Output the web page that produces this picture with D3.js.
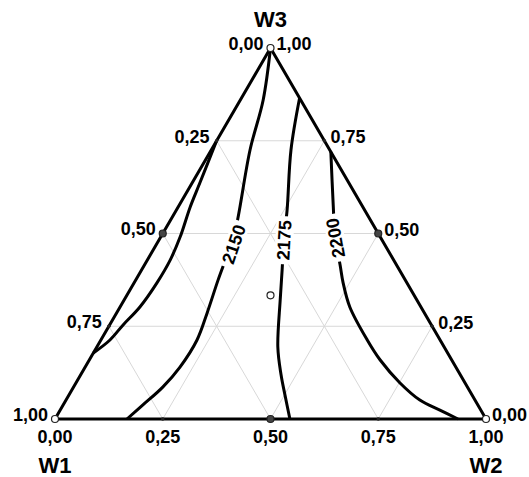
<!DOCTYPE html>
<html>
<head>
<meta charset="utf-8">
<script src="https://cdn.jsdelivr.net/npm/d3@7"></script>
<style>
  body { margin: 0; background: #fff; }
  svg { display: block; font-family: "Liberation Sans", Arial, sans-serif; font-weight: bold; }
</style>
</head>
<body>
<svg id="svg0" width="529" height="477"></svg>
<script>
// ternary points are [W1, W2, W3]
var tickValues = [0, 0.25, 0.5, 0.75, 1];
var gridValues = [0.25, 0.5, 0.75];
var axisNames = ['W1', 'W2', 'W3'];

var designPoints = [
    [1, 0, 0], [0, 1, 0], [0, 0, 1],
    [0.5, 0.5, 0], [0.5, 0, 0.5], [0, 0.5, 0.5],
    [1/3, 1/3, 1/3]
];

var contourLeft = [
    [0.250, 0.000, 0.750], [0.346, 0.018, 0.636], [0.401, 0.028, 0.571],
    [0.464, 0.045, 0.491], [0.518, 0.053, 0.429], [0.580, 0.053, 0.367],
    [0.652, 0.046, 0.302], [0.716, 0.031, 0.253], [0.766, 0.021, 0.213],
    [0.822, 0.000, 0.178]
];
var contour2150 = [
    [0.000, 0.000, 1.000], [0.087, 0.053, 0.860], [0.185, 0.090, 0.725],
    [0.314, 0.158, 0.528], [0.348, 0.170, 0.482], [0.386, 0.180, 0.434],
    [0.434, 0.191, 0.375], [0.504, 0.210, 0.286], [0.564, 0.223, 0.213],
    [0.640, 0.220, 0.140], [0.707, 0.207, 0.086], [0.777, 0.185, 0.038],
    [0.833, 0.167, 0.000]
];
var contour2175 = [
    [0.000, 0.135, 0.865], [0.090, 0.185, 0.725], [0.180, 0.257, 0.563],
    [0.228, 0.290, 0.482], [0.272, 0.326, 0.402], [0.317, 0.362, 0.321],
    [0.386, 0.420, 0.194], [0.416, 0.465, 0.119], [0.434, 0.501, 0.065],
    [0.455, 0.545, 0.000]
];
var contour2200 = [
    [0.000, 0.280, 0.720], [0.066, 0.357, 0.577], [0.106, 0.406, 0.488],
    [0.131, 0.454, 0.415], [0.148, 0.485, 0.367], [0.165, 0.533, 0.302],
    [0.169, 0.618, 0.213], [0.166, 0.675, 0.159], [0.151, 0.752, 0.097],
    [0.128, 0.821, 0.051], [0.095, 0.881, 0.024], [0.065, 0.935, 0.000]
];
var contourLevels = [null, 2150, 2175, 2200];
var contourLines = [contourLeft, contour2150, contour2175, contour2200];
var labelAt = [null, [0.350, 0.179, 0.471], [0.228, 0.290, 0.482], [0.106, 0.406, 0.488]];

var svg = d3.select('#svg0');
var sq = Math.sqrt(3) / 2;

var x = d3.scaleLinear().domain([0, 1]).range([55, 486]);
var y = d3.scaleLinear().domain([0, sq]).range([419, 48]);

function px(p) {
    return [x(p[1] + p[2] / 2), y(p[2] * sq)];
}

var fmt = d3.formatLocale({ decimal: ',', thousands: '.', grouping: [3], currency: ['', ''] }).format('.2f');

// grid
var grid = [];
gridValues.forEach(function (c) {
    grid.push([[c, 1 - c, 0], [c, 0, 1 - c]]);
    grid.push([[1 - c, c, 0], [0, c, 1 - c]]);
    grid.push([[1 - c, 0, c], [0, 1 - c, c]]);
});
svg.append('g').selectAll('line')
    .data(grid)
    .enter()
    .append('line')
    .attr('x1', function (d) { return px(d[0])[0]; })
    .attr('y1', function (d) { return px(d[0])[1]; })
    .attr('x2', function (d) { return px(d[1])[0]; })
    .attr('y2', function (d) { return px(d[1])[1]; })
    .attr('stroke', '#d8d8d8')
    .attr('stroke-width', 1);

// contours
var line = d3.line()
    .x(function (d) { return px(d)[0]; })
    .y(function (d) { return px(d)[1]; })
    .curve(d3.curveCatmullRom.alpha(0.5));

svg.append('g').selectAll('path')
    .data(contourLines)
    .enter()
    .append('path')
    .attr('d', line)
    .attr('fill', 'none')
    .attr('stroke', '#000')
    .attr('stroke-width', 3)
    .attr('stroke-linejoin', 'round');

// contour labels
var labels = svg.append('g');
contourLevels.forEach(function (lev, i) {
    if (lev === null) return;
    var pts = contourLines[i].map(px);
    var c = px(labelAt[i]);
    var best = 0, bd = Infinity;
    for (var k = 0; k < pts.length - 1; k++) {
        var mx = (pts[k][0] + pts[k + 1][0]) / 2, my = (pts[k][1] + pts[k + 1][1]) / 2;
        var dd = (mx - c[0]) * (mx - c[0]) + (my - c[1]) * (my - c[1]);
        if (dd < bd) { bd = dd; best = k; }
    }
    var a = pts[best], b = pts[best + 1];
    var dx = b[0] - a[0], dy = b[1] - a[1];
    if (dy > 0) { dx = -dx; dy = -dy; }
    var ang = Math.atan2(dy, dx) * 180 / Math.PI;
    var g = labels.append('g')
        .attr('transform', 'translate(' + c[0] + ',' + c[1] + ') rotate(' + ang + ')');
    var t = g.append('text')
        .attr('text-anchor', 'middle')
        .attr('dy', '0.36em')
        .attr('font-size', 18)
        .text(lev);
    var bb = t.node().getBBox();
    g.insert('rect', 'text')
        .attr('x', bb.x - 4)
        .attr('y', bb.y + 1)
        .attr('width', bb.width + 8)
        .attr('height', bb.height - 2)
        .attr('fill', '#fff');
});

// triangle edges
var corners = [[1, 0, 0], [0, 1, 0], [0, 0, 1]];
svg.append('path')
    .attr('d', 'M' + corners.map(function (p) { return px(p).join(','); }).join('L') + 'Z')
    .attr('fill', 'none')
    .attr('stroke', '#000')
    .attr('stroke-width', 3)
    .attr('stroke-linejoin', 'miter');

// tick dots
var tickPts = [];
[0.25, 0.75].forEach(function (v) {
    tickPts.push([v, 0, 1 - v], [0, 1 - v, v], [1 - v, v, 0]);
});
svg.append('g').selectAll('circle')
    .data(tickPts)
    .enter()
    .append('circle')
    .attr('cx', function (d) { return px(d)[0]; })
    .attr('cy', function (d) { return px(d)[1]; })
    .attr('r', 1.8)
    .attr('fill', '#222');

// design points
svg.append('g').selectAll('circle')
    .data(designPoints)
    .enter()
    .append('circle')
    .attr('cx', function (d) { return px(d)[0]; })
    .attr('cy', function (d) { return px(d)[1]; })
    .attr('r', 3.5)
    .attr('fill', function (d, i) { return i >= 3 && i < 6 ? '#444' : '#fff'; })
    .attr('stroke', '#222')
    .attr('stroke-width', 1.2);

// tick labels
var tl = svg.append('g').attr('font-size', 18).attr('fill', '#000');
tickValues.forEach(function (v) {
    var l = px([v, 0, 1 - v]);
    tl.append('text').attr('x', l[0] - 7).attr('y', l[1] - 4.5)
        .attr('dy', '0.36em').attr('text-anchor', 'end').text(fmt(v));
    var r = px([0, 1 - v, v]);
    tl.append('text').attr('x', r[0] + 6).attr('y', r[1] - 4)
        .attr('dy', '0.36em').attr('text-anchor', 'start').text(fmt(v));
    var b = px([1 - v, v, 0]);
    tl.append('text').attr('x', b[0]).attr('y', b[1] + 18)
        .attr('dy', '0.36em').attr('text-anchor', 'middle').text(fmt(v));
});

// axis names
var nameOffsets = [46, 46, -29];
axisNames.forEach(function (n, i) {
    var p = px(corners[i]);
    svg.append('text')
        .attr('x', p[0])
        .attr('y', p[1] + nameOffsets[i])
        .attr('dy', '0.36em')
        .attr('text-anchor', 'middle')
        .attr('font-size', 22)
        .text(n);
});
</script>
</body>
</html>
